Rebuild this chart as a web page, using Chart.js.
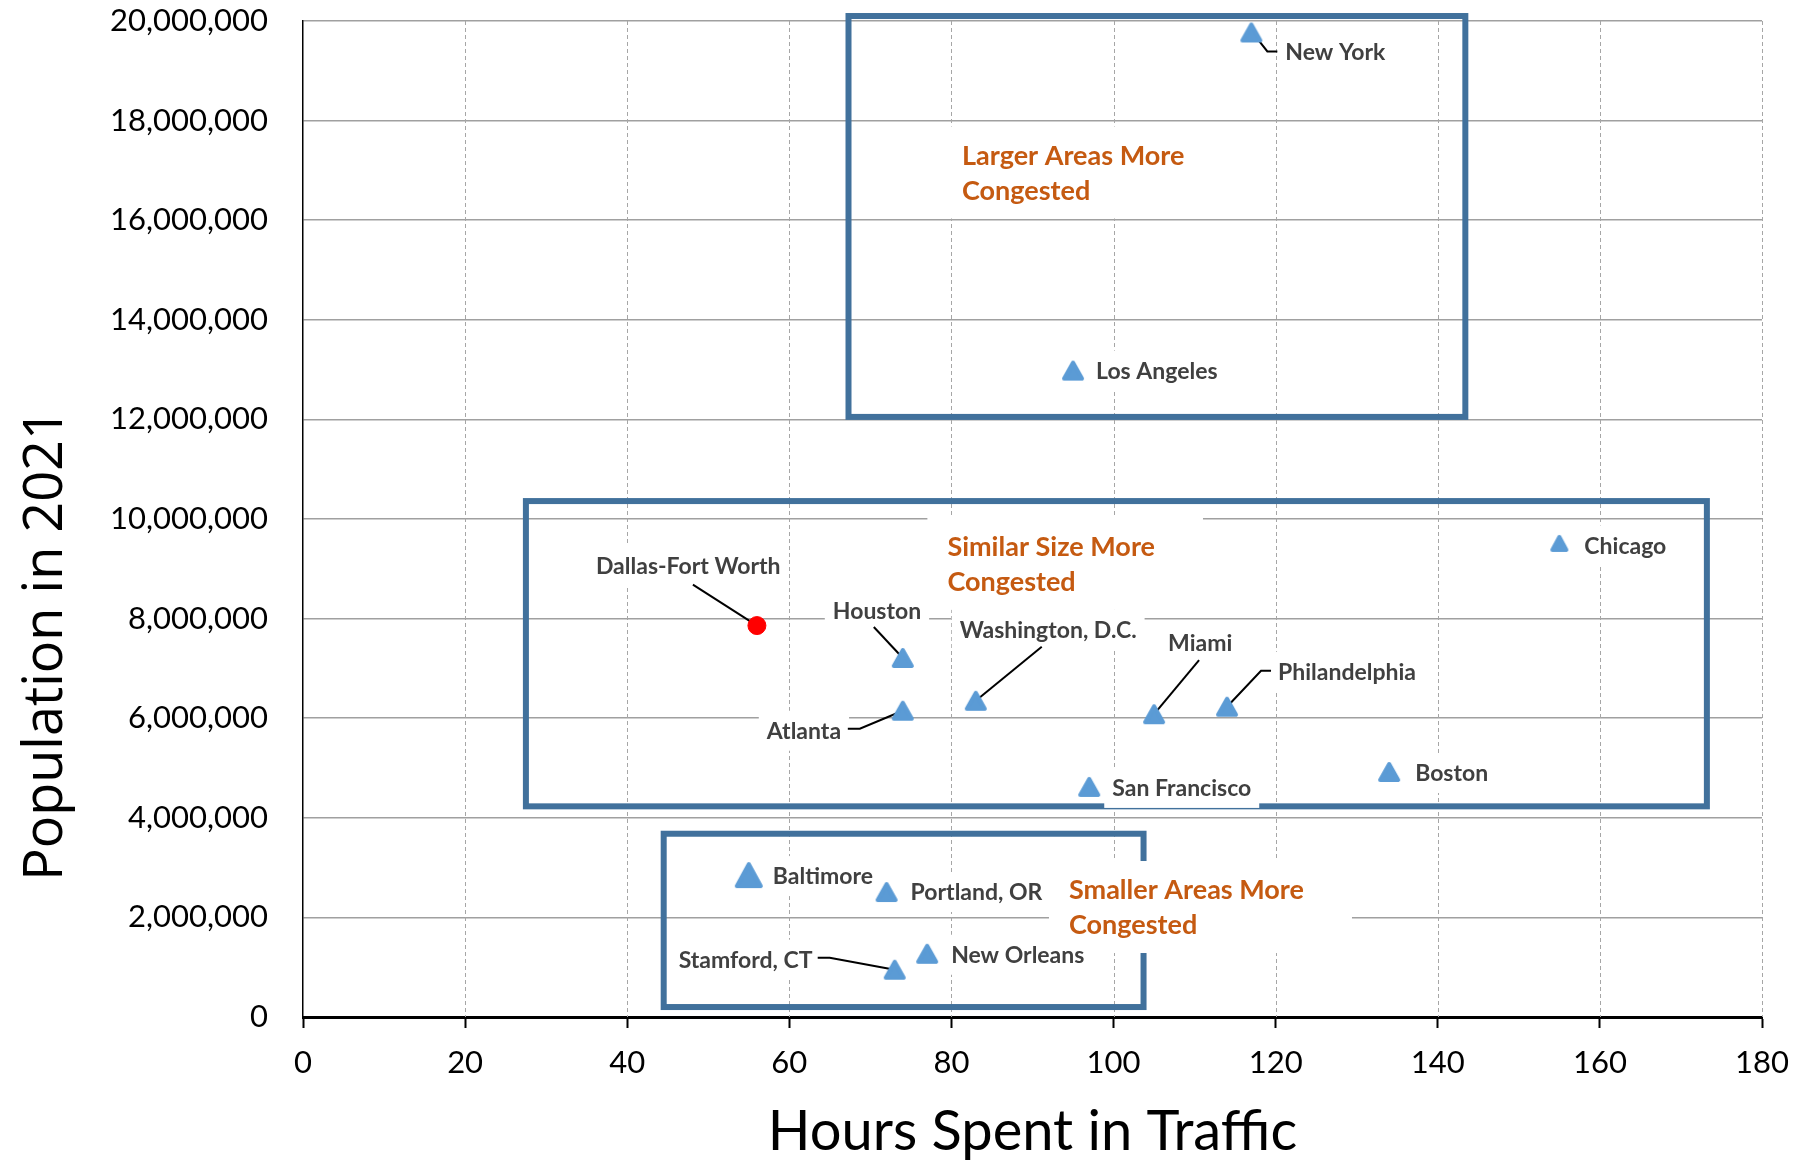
<!DOCTYPE html>
<html>
<head>
<meta charset="utf-8">
<title>Population vs Hours Spent in Traffic</title>
<script src="https://cdn.jsdelivr.net/npm/chart.js@4.4.1/dist/chart.umd.min.js"></script>
<style>
    html, body { margin: 0; padding: 0; background: #ffffff; }
    #wrap { width: 1799px; height: 1160px; position: relative; }
</style>
</head>
<body>
<div id="wrap"><canvas id="trafficChart"></canvas></div>
<script>
// data
const cityNames = ['New York', 'Los Angeles', 'Chicago', 'Houston', 'Washington, D.C.', 'Atlanta', 'Miami',
    'Philandelphia', 'Boston', 'San Francisco', 'Baltimore', 'Portland, OR', 'New Orleans', 'Stamford, CT'];
const cityHours = [117, 95, 155, 74, 83, 74, 105, 114, 134, 97, 55, 72, 77, 73];
const cityPopulation = [19770000, 12980000, 9510000, 7210000, 6350000, 6150000, 6080000,
    6230000, 4920000, 4620000, 2850000, 2510000, 1270000, 950000];

const highlightNames = ['Dallas-Fort Worth'];
const highlightHours = [56];
const highlightPopulation = [7860000];

const xTickValues = [0, 20, 40, 60, 80, 100, 120, 140, 160, 180];
const yTickValues = [0, 2000000, 4000000, 6000000, 8000000, 10000000, 12000000, 14000000, 16000000, 18000000, 20000000];

const regionNames = [['Larger Areas More', 'Congested'], ['Similar Size More', 'Congested'], ['Smaller Areas More', 'Congested']];

// annotation placement (data units for the boxes, pixel offsets for the city labels)
const regionBoxes = [
    { x0: 67.3, x1: 143.4, y0: 12050000, y1: 20100000, tx: 81.3, ty: 17310000 },
    { x0: 27.5, x1: 173.2, y0: 4230000, y1: 10360000, tx: 79.5, ty: 9450000 },
    { x0: 44.5, x1: 103.7, y0: 200000, y1: 3680000, tx: 94.5, ty: 2560000 }
];

const labelLayout = {
    'New York':          { dx: 34,   dy: 19,  leader: [[1, 0], [16, 19], [26, 19]] },
    'Los Angeles':       { dx: 23,   dy: 0 },
    'Chicago':           { dx: 25,   dy: 2 },
    'Dallas-Fort Worth': { dx: -161, dy: -60, leader: [[-64, -41], [0, 0]] },
    'Houston':           { dx: -70,  dy: -47, leader: [[-29, -31], [0, 0]] },
    'Atlanta':           { dx: -136, dy: 20,  leader: [[-55, 18], [-43, 18], [0, 0]] },
    'Washington, D.C.':  { dx: -16,  dy: -71, leader: [[66, -54], [0, 0]] },
    'Miami':             { dx: 14,   dy: -71, leader: [[45, -54], [0, 0]] },
    'Philandelphia':     { dx: 51,   dy: -35, leader: [[44, -36], [34, -36], [0, 0]] },
    'Boston':            { dx: 26,   dy: 1 },
    'San Francisco':     { dx: 23,   dy: 1 },
    'Baltimore':         { dx: 24,   dy: 1 },
    'Portland, OR':      { dx: 24,   dy: 0 },
    'New Orleans':       { dx: 24,   dy: 1 },
    'Stamford, CT':      { dx: -216, dy: -10, leader: [[-77, -12], [-65, -12], [0, 0]] }
};

const markerWidth = { 'Chicago': 18, 'Baltimore': 28 };

const BLUE = '#5B9BD5';
const BOX_BLUE = '#41719C';
const ORANGE = '#C55A11';
const LABEL_GRAY = '#404040';
const LABEL_SIZE = 23;
const REGION_SIZE = 27;
const LABEL_FONT = 'bold ' + LABEL_SIZE + 'px Lato';
const REGION_FONT = 'bold ' + REGION_SIZE + 'px Lato';

document.addEventListener('DOMContentLoaded', function() {
    drawChart();
});

function makeTriangle(w) {
    const h = Math.round(w * 0.92);
    const c = document.createElement('canvas');
    c.width = w + 2;
    c.height = h + 2;
    const g = c.getContext('2d');
    g.fillStyle = BLUE;
    g.strokeStyle = BLUE;
    g.lineJoin = 'round';
    g.lineWidth = 4;
    g.beginPath();
    g.moveTo(c.width / 2, 3);
    g.lineTo(c.width - 3, c.height - 3);
    g.lineTo(3, c.height - 3);
    g.closePath();
    g.fill();
    g.stroke();
    return c;
}

function allLabels(chart) {
    const xs = chart.scales.x, ys = chart.scales.y;
    const out = [];
    cityNames.forEach((name, i) => {
        out.push({ name, px: xs.getPixelForValue(cityHours[i]), py: ys.getPixelForValue(cityPopulation[i]) });
    });
    highlightNames.forEach((name, i) => {
        out.push({ name, px: xs.getPixelForValue(highlightHours[i]), py: ys.getPixelForValue(highlightPopulation[i]) });
    });
    return out;
}

const annotationPlugin = {
    id: 'annotations',
    beforeDatasetsDraw(chart) {
        const ctx = chart.ctx;
        const xs = chart.scales.x, ys = chart.scales.y;
        const area = chart.chartArea;
        ctx.save();

        // dashed vertical grid lines
        ctx.strokeStyle = '#a6a6a6';
        ctx.lineWidth = 1;
        ctx.setLineDash([4, 3]);
        xTickValues.forEach(v => {
            if (v === xs.min) return;
            const x = Math.round(xs.getPixelForValue(v)) + 0.5;
            ctx.beginPath();
            ctx.moveTo(x, area.top);
            ctx.lineTo(x, area.bottom);
            ctx.stroke();
        });
        ctx.setLineDash([]);

        // region boxes
        ctx.strokeStyle = BOX_BLUE;
        ctx.lineWidth = 6;
        regionBoxes.forEach(b => {
            const x0 = xs.getPixelForValue(b.x0), x1 = xs.getPixelForValue(b.x1);
            const y0 = ys.getPixelForValue(b.y1), y1 = ys.getPixelForValue(b.y0);
            ctx.strokeRect(x0, y0, x1 - x0, y1 - y0);
        });

        // white text boxes behind region titles
        ctx.font = REGION_FONT;
        ctx.fillStyle = '#ffffff';
        regionBoxes.forEach((b, i) => {
            const lx = xs.getPixelForValue(b.tx);
            const ly = ys.getPixelForValue(b.ty);
            const w = Math.max(...regionNames[i].map(t => ctx.measureText(t).width));
            ctx.fillRect(lx - 20, ly + 17.5 - 46, w + 68, 92);
        });

        // white boxes behind city labels
        ctx.font = LABEL_FONT;
        allLabels(chart).forEach(l => {
            const lay = labelLayout[l.name];
            const w = ctx.measureText(l.name).width;
            ctx.fillRect(l.px + lay.dx - 8, l.py + lay.dy - 20, w + 16, 40);
        });

        // leader lines
        ctx.strokeStyle = '#000000';
        ctx.lineWidth = 2;
        allLabels(chart).forEach(l => {
            const lay = labelLayout[l.name];
            if (!lay.leader) return;
            ctx.beginPath();
            lay.leader.forEach((p, k) => {
                if (k === 0) ctx.moveTo(l.px + p[0], l.py + p[1]);
                else ctx.lineTo(l.px + p[0], l.py + p[1]);
            });
            ctx.stroke();
        });
        ctx.restore();
    },
    afterDatasetsDraw(chart) {
        const ctx = chart.ctx;
        const xs = chart.scales.x, ys = chart.scales.y;
        ctx.save();
        ctx.textAlign = 'left';
        ctx.textBaseline = 'alphabetic';

        ctx.font = LABEL_FONT;
        ctx.fillStyle = LABEL_GRAY;
        allLabels(chart).forEach(l => {
            const lay = labelLayout[l.name];
            ctx.fillText(l.name, l.px + lay.dx, l.py + lay.dy + LABEL_SIZE * 0.36);
        });

        ctx.font = REGION_FONT;
        ctx.fillStyle = ORANGE;
        regionBoxes.forEach((b, i) => {
            const lx = xs.getPixelForValue(b.tx);
            const ly = ys.getPixelForValue(b.ty);
            regionNames[i].forEach((t, k) => ctx.fillText(t, lx, ly + REGION_SIZE * 0.36 + k * 35));
        });
        ctx.restore();
    },
    afterDraw(chart) {
        const ctx = chart.ctx;
        const area = chart.chartArea;
        ctx.save();
        ctx.fillStyle = '#000000';
        ctx.textAlign = 'center';
        ctx.textBaseline = 'alphabetic';

        ctx.font = '56px Lato';
        ctx.fillText('Hours Spent in Traffic', (area.left + area.right) / 2, area.bottom + 133);

        ctx.font = '54px "Open Sans"';
        ctx.translate(62, area.top + 624);
        ctx.rotate(-Math.PI / 2);
        ctx.fillText('Population in 2021', 0, 0);
        ctx.restore();
    }
};

function drawChart() {
    const ctx = document.getElementById('trafficChart').getContext('2d');

    const chart = new Chart(ctx, {
        type: 'scatter',
        data: {
            datasets: [{
                label: 'Cities',
                data: cityNames.map((n, i) => ({ x: cityHours[i], y: cityPopulation[i] })),
                pointStyle: cityNames.map(n => makeTriangle(markerWidth[n] || 22)),
                pointRadius: 11,
                backgroundColor: BLUE,
                borderColor: BLUE
            }, {
                label: 'Dallas-Fort Worth',
                data: highlightNames.map((n, i) => ({ x: highlightHours[i], y: highlightPopulation[i] })),
                pointStyle: 'circle',
                pointRadius: 9,
                borderWidth: 1,
                backgroundColor: '#FF0000',
                borderColor: '#FF0000'
            }]
        },
        options: {
            responsive: true,
            maintainAspectRatio: false,
            animation: false,
            events: [],
            layout: {
                padding: { top: 21, right: 37, left: 0, bottom: 0 }
            },
            plugins: {
                legend: { display: false },
                tooltip: { enabled: false },
                title: { display: false }
            },
            scales: {
                x: {
                    type: 'linear',
                    min: 0,
                    max: 180,
                    afterBuildTicks: scale => { scale.ticks = xTickValues.map(v => ({ value: v })); },
                    afterFit: scale => { scale.height = 143; },
                    grid: {
                        drawOnChartArea: false,
                        drawTicks: true,
                        tickLength: 11,
                        tickColor: '#000000',
                        tickWidth: 2
                    },
                    border: { display: true, color: '#000000', width: 3 },
                    ticks: {
                        color: '#000000',
                        padding: 0,
                        font: { family: 'Lato', size: 31, lineHeight: 2.24 }
                    }
                },
                y: {
                    type: 'linear',
                    min: 0,
                    max: 20000000,
                    afterBuildTicks: scale => { scale.ticks = yTickValues.map(v => ({ value: v })); },
                    afterFit: scale => { scale.width = 303; },
                    grid: {
                        color: '#a0a0a0',
                        lineWidth: 1.5,
                        drawTicks: true,
                        tickLength: 35,
                        tickColor: 'rgba(0,0,0,0)'
                    },
                    border: { display: true, color: '#000000', width: 1.5 },
                    ticks: {
                        color: '#000000',
                        padding: 0,
                        font: { family: 'Lato', size: 31 },
                        callback: function(value) {
                            return value.toLocaleString('en-US');
                        }
                    }
                }
            }
        },
        plugins: [annotationPlugin]
    });
    window.trafficChart = chart;
}
</script>
</body>
</html>
